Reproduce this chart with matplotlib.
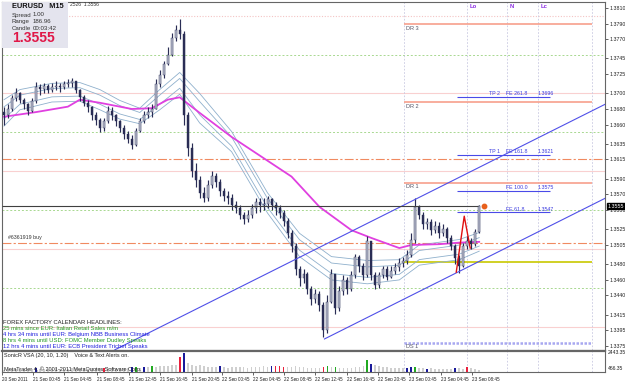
import numpy as np
import matplotlib
matplotlib.use('Agg')
import matplotlib.pyplot as plt
from matplotlib.patches import Rectangle

plt.rcParams['font.family'] = ['Liberation Sans', 'DejaVu Sans']

W, H = 625, 381

# EURUSD M15 bars (quotes written as the last four digits, 3672 -> 1.3672)
open0 = 3676
cl = [3672, 3680, 3694, 3700, 3692, 3686, 3678, 3690, 3708, 3706,
      3710, 3704, 3708, 3710, 3708, 3712, 3714, 3716, 3704, 3696,
      3688, 3682, 3672, 3666, 3656, 3664, 3678, 3672, 3664, 3655,
      3648, 3642, 3634, 3652, 3664, 3672, 3676, 3680, 3712, 3724,
      3738, 3750, 3772, 3782, 3776, 3672, 3630, 3600, 3588, 3572,
      3566, 3582, 3594, 3586, 3574, 3568, 3566, 3556, 3552, 3544,
      3538, 3544, 3552, 3560, 3556, 3558, 3564, 3556, 3552, 3546,
      3536, 3520, 3504, 3474, 3462, 3468, 3448, 3436, 3442, 3428,
      3396, 3432, 3468, 3424, 3446, 3460, 3448, 3466, 3490, 3478,
      3466, 3510, 3466, 3454, 3466, 3474, 3464, 3472, 3476, 3482,
      3484, 3492, 3512, 3554, 3544, 3532, 3534, 3524, 3530, 3520,
      3526, 3514, 3504, 3488, 3478, 3504, 3510, 3506, 3522, 3555]
hi = [3682, 3686, 3698, 3707, 3702, 3694, 3688, 3694, 3715, 3712,
      3714, 3712, 3713, 3716, 3713, 3716, 3718, 3720, 3716, 3706,
      3698, 3692, 3684, 3676, 3668, 3668, 3684, 3682, 3674, 3666,
      3660, 3652, 3646, 3656, 3668, 3678, 3682, 3686, 3718, 3730,
      3742, 3760, 3778, 3788, 3796, 3780, 3676, 3636, 3610, 3594,
      3580, 3588, 3600, 3598, 3590, 3578, 3574, 3570, 3562, 3556,
      3548, 3550, 3558, 3566, 3566, 3566, 3568, 3566, 3560, 3556,
      3550, 3540, 3524, 3508, 3478, 3474, 3470, 3452, 3448, 3446,
      3432, 3440, 3474, 3468, 3452, 3466, 3464, 3472, 3494, 3492,
      3482, 3517, 3510, 3470, 3470, 3478, 3478, 3478, 3482, 3488,
      3490, 3498, 3520, 3566, 3556, 3548, 3540, 3538, 3536, 3534,
      3532, 3528, 3518, 3506, 3492, 3508, 3516, 3514, 3526, 3556]
lo = [3660, 3668, 3678, 3690, 3688, 3680, 3672, 3676, 3688, 3698,
      3700, 3700, 3702, 3704, 3702, 3706, 3708, 3708, 3700, 3690,
      3684, 3676, 3666, 3660, 3650, 3652, 3662, 3666, 3658, 3650,
      3642, 3636, 3628, 3632, 3650, 3662, 3668, 3670, 3680, 3708,
      3720, 3736, 3748, 3768, 3770, 3660, 3620, 3592, 3580, 3566,
      3560, 3562, 3578, 3580, 3568, 3562, 3558, 3550, 3546, 3538,
      3532, 3534, 3540, 3546, 3548, 3550, 3552, 3550, 3544, 3540,
      3530, 3514, 3496, 3466, 3452, 3456, 3442, 3428, 3430, 3420,
      3386, 3392, 3430, 3416, 3420, 3440, 3442, 3446, 3462, 3470,
      3460, 3464, 3460, 3448, 3450, 3462, 3460, 3462, 3468, 3472,
      3476, 3480, 3490, 3508, 3538, 3526, 3526, 3518, 3520, 3514,
      3516, 3508, 3498, 3480, 3469, 3476, 3500, 3500, 3504, 3520]

# slow moving average (magenta), read at a few bars
ma_bar = [0, 8, 16, 19, 24, 32, 37, 41, 44, 49, 57, 62, 72, 79, 87, 92, 99, 102, 109, 114, 119]
ma_val = [3670, 3676, 3683, 3692, 3688, 3680, 3681, 3692, 3695, 3675, 3644,
          3627, 3593, 3554, 3524, 3514, 3501, 3505, 3506, 3508, 3509]

# envelope bands (steel blue): centre and half width
band_bar = [0, 4, 12, 19, 24, 29, 34, 39, 44, 49, 57, 66, 74, 82, 91, 99, 104, 114, 119]
band_mid = [3675, 3692, 3701, 3702, 3692, 3679, 3671, 3692, 3713, 3681, 3638,
            3559, 3505, 3475, 3470, 3473, 3492, 3499, 3509]
band_half = [17, 13, 12, 12, 13, 12, 10, 13, 14, 19, 13, 13, 15, 15, 15, 13, 13, 13, 12]

# SonicR VSA volume
vol = [300, 350, 320, 400, 380, 350, 420, 380, 450, 400,
       380, 420, 400, 450, 380, 420, 400, 450, 480, 420,
       450, 400, 480, 500, 450, 550, 500, 480, 450, 520,
       500, 480, 600, 620, 550, 650, 600, 700, 650, 750,
       700, 800, 850, 900, 1900, 2400, 1100, 900, 800, 850,
       700, 650, 600, 620, 700, 600, 550, 600, 650, 580,
       600, 550, 620, 600, 650, 700, 600, 750, 700, 750,
       680, 600, 650, 700, 620, 580, 550, 500, 520, 480,
       650, 700, 600, 650, 550, 500, 520, 550, 600, 650,
       700, 1500, 1000, 900, 700, 650, 600, 550, 500, 450,
       480, 550, 600, 650, 500, 450, 400, 500, 420, 380,
       400, 380, 420, 500, 450, 400, 600, 450, 350, 300]
vol_flag = {8: 'b', 25: 'r', 32: 'b', 33: 'g', 35: 'b', 37: 'g', 44: 'r', 45: 'b',
            54: 'b', 67: 'b', 68: 'r', 69: 'r', 70: 'r', 80: 'r', 81: 'g', 83: 'g',
            91: 'g', 92: 'b', 101: 'b', 102: 'b', 103: 'g', 106: 'b', 113: 'b', 116: 'r'}

# levels
round_solid = [1.3700, 1.3600, 1.3500, 1.3400]
round_dotted = [1.3800]
half_levels = [1.3750, 1.3650, 1.3550, 1.3450]
order_levels = [1.3616, 1.3508]
bid = 1.3555
dr_levels = [('DR 3', 1.3789), ('DR 2', 1.3689), ('DR 1', 1.3585)]
ds1 = 1.3379
pivot = 1.3483
fe_lines = [('TP 2', 'FE 261.8', 1.3696), ('TP 1', 'FE 161.8', 1.3621),
            ('', 'FE 100.0', 1.3575), ('', 'FE 61.8', 1.3547)]
channel_up = [(27.75, 1.3370), (150.5, 1.3686)]
channel_dn = [(80.25, 1.3384), (150.5, 1.3565)]
zigzag_bar = [113.25, 115.25, 116.75]
zigzag_val = [1.3470, 1.3542, 1.3501]
session_bar = [100.25, 116.0, 126.0, 133.75, 147.25]
session_lbl = [('Lo', 116.0), ('N', 126.0), ('Lc', 133.75)]

yticks = [1.3810, 1.3790, 1.3770, 1.3745, 1.3725, 1.3700, 1.3680, 1.3660, 1.3635,
          1.3615, 1.3590, 1.3570, 1.3550, 1.3525, 1.3505, 1.3480, 1.3460, 1.3440,
          1.3415, 1.3395, 1.3375]
xtick_bar = [-0.5, 7.25, 15.0, 23.25, 31.25, 39.0, 47.0, 54.5, 62.25, 70.0,
             78.0, 86.0, 93.75, 101.5, 109.5, 117.25]
xtick_lbl = ['20 Sep 2011', '21 Sep 00:45', '21 Sep 04:45', '21 Sep 08:45', '21 Sep 12:45',
             '21 Sep 16:45', '21 Sep 20:45', '22 Sep 00:45', '22 Sep 04:45', '22 Sep 08:45',
             '22 Sep 12:45', '22 Sep 16:45', '22 Sep 20:45', '23 Sep 00:45', '23 Sep 04:45',
             '23 Sep 08:45']

news = [('FOREX FACTORY CALENDAR HEADLINES:', '#222222'),
        ('25 mins since EUR: Italian Retail Sales m/m', '#229922'),
        ('4 hrs 34 mins until EUR: Belgium NBB Business Climate', '#2222dd'),
        ('8 hrs 4 mins until USD: FOMC Member Dudley Speaks', '#229922'),
        ('12 hrs 4 mins until EUR: ECB President Trichet Speaks', '#2222dd')]


def px(x):
    return x / W


def py(y):
    return 1 - y / H


q = lambda v: 1 + np.asarray(v, dtype=float) / 10000.0
c = q(cl); h = q(hi); l = q(lo)
o = np.r_[q(open0), c[:-1]]
bars = np.arange(len(c))
XMIN, XMAX = -0.5, 150.5

fig = plt.figure(figsize=(W / 100, H / 100), dpi=100)
fig.patch.set_facecolor('white')
ax = fig.add_axes([px(2), py(350), px(603), (350 - 2) / H])
av = fig.add_axes([px(2), py(372), px(603), (372 - 351) / H])

# background levels
for v in round_solid:
    ax.axhline(v, color='#f9d0d0', lw=0.8, zorder=1)
for v in round_dotted:
    ax.axhline(v, color='#f4c4c4', lw=0.8, ls=(0, (1, 1.5)), zorder=1)
for v in half_levels:
    ax.axhline(v, color='#a8d890', lw=0.7, ls=(0, (2, 2)), zorder=1)
for v in order_levels:
    ax.axhline(v, color='#f08a60', lw=0.8, ls=(0, (8, 2, 2, 2)), zorder=1)
ax.text(1.0, order_levels[1] + 0.0003, '#6361919 buy', fontsize=3.8, color='#333333', va='bottom')

for b in session_bar:
    for a in (ax, av):
        a.axvline(b, color='#c8c8e0', lw=0.6, ls=(0, (2, 2)), zorder=1)
for t, b in session_lbl:
    ax.text(b + 0.6, 1.38125, t, fontsize=4.2, color='#8a2be2', fontweight='bold', va='center')

x0, x1 = session_bar[0], session_bar[-1]
for name, v in dr_levels:
    ax.hlines(v, x0, x1, color='#f7a08c', lw=1.2, zorder=2)
    ax.text(x0 + 0.4, v - 0.0002, name, fontsize=4.0, color='#555566', va='top')
ax.hlines(ds1, x0, x1, color='#a8a8f0', lw=1.8, ls=(0, (1, 0.6)), zorder=2)
ax.text(x0 + 0.4, ds1 - 0.0002, 'DS 1', fontsize=4.0, color='#555566', va='top')
ax.hlines(pivot, x0, x1, color='#c8c800', lw=1.2, zorder=2)

for tp, fe, v in fe_lines:
    ax.hlines(v, 113.5, 136.75, color='#4a4ae8', lw=0.8, zorder=2)
    if tp:
        ax.text(121.5, v + 0.0001, tp, fontsize=3.8, color='#3a3ae0', va='bottom')
    ax.text(125.75, v + 0.0001, fe, fontsize=3.8, color='#3a3ae0', va='bottom')
    ax.text(133.5, v + 0.0001, '%.4f' % v, fontsize=3.8, color='#3a3ae0', va='bottom')

# indicators
mb = np.asarray(band_mid) / 10000.0 + 1
hb = np.asarray(band_half) / 10000.0
for f in (1.0, 0.45, -0.45, -1.0):
    ax.plot(band_bar, mb + f * hb, color='#8fb0cc', lw=0.6, zorder=3)
ax.plot(ma_bar, q(ma_val), color='#e040e0', lw=1.3, zorder=4)

# candles
top = np.maximum.reduce([h, o, c])
bot = np.minimum.reduce([l, o, c])
ax.vlines(bars, bot, top, color='#2a2d55', lw=0.85, zorder=5)
up = c >= o
ax.bar(bars[up], (c - o)[up], bottom=o[up], width=0.5, color='#b8bccc',
       edgecolor='#2a2d55', lw=0.3, zorder=6)
ax.bar(bars[~up], (o - c)[~up], bottom=c[~up], width=0.5, color='#2a2d55',
       edgecolor='#2a2d55', lw=0.3, zorder=6)

# channel, zigzag, bid line
for pts in (channel_up, channel_dn):
    ax.plot([p[0] for p in pts], [p[1] for p in pts], color='#5050e8', lw=0.8, zorder=7)
ax.plot(zigzag_bar, zigzag_val, color='#e01010', lw=1.0, zorder=7)
ax.hlines(bid, XMIN, 118.75, color='#404040', lw=0.8, zorder=7)
ax.plot([120.25], [bid], 'o', color='#e8601c', ms=3.2, zorder=8)

ax.set_xlim(XMIN, XMAX)
ax.set_ylim(1.33698, 1.38177)
ax.yaxis.tick_right()
ax.set_yticks(yticks)
ax.set_yticklabels(['%.4f' % v for v in yticks])
ax.tick_params(axis='y', labelsize=3.8, length=2, width=0.5, pad=1.5, colors='#222222')
ax.set_xticks([])
for s in ax.spines.values():
    s.set_color('#666666'); s.set_linewidth(0.8)

# bid price box on the price scale
ax.annotate('%.4f' % bid, xy=(1.0, bid), xycoords=('axes fraction', 'data'),
            xytext=(2, 0), textcoords='offset points', fontsize=3.8, color='white',
            va='center', ha='left', annotation_clip=False,
            bbox=dict(boxstyle='square,pad=0.15', fc='black', ec='black'))

# volume pane
colors = {'r': '#e8203c', 'b': '#1a1a9a', 'g': '#22aa22'}
vc = [colors[vol_flag[i]] if i in vol_flag else '#cfcfcf' for i in range(len(vol))]
av.bar(bars, vol, width=0.45, color=vc, zorder=3)
av.set_xlim(XMIN, XMAX)
av.set_ylim(0, 2600)
av.yaxis.tick_right()
av.set_yticks([466.35, 2443.35])
av.set_yticklabels(['466.35', '2443.35'])
av.tick_params(axis='y', labelsize=3.6, length=0, pad=2, colors='#222222')
av.set_xticks(xtick_bar)
av.set_xticklabels(xtick_lbl, ha='left')
av.tick_params(axis='x', labelsize=3.3, length=2, width=0.5, pad=1.5, colors='#222222')
for s in av.spines.values():
    s.set_color('#666666'); s.set_linewidth(0.8)
av.spines['top'].set_linewidth(1.6)
av.text(0.004, 0.78, 'SonicR VSA (20, 10, 1.20)    Voice & Text Alerts on.',
        transform=av.transAxes, fontsize=4.0, color='#222222', va='center')
av.text(0.004, 0.12, 'MetaTrader 4, \u00a9 2001-2011 MetaQuotes Software Corp.',
        transform=av.transAxes, fontsize=4.0, color='#222222', va='center', zorder=4)

# calendar headlines
for i, (t, col) in enumerate(news):
    fig.text(px(3), py(322 + 6.1 * i), t, fontsize=4.2, color=col, va='center')

# info box
fig.patches.append(Rectangle((px(2), py(48)), px(66), 46 / H, transform=fig.transFigure,
                             fc='#e4e4ee', ec='none', zorder=10))
fig.text(px(12), py(6), 'EURUSD   M15', fontsize=5.3, fontweight='bold', color='#111111',
         va='center', zorder=11)
for i, (k_, v_) in enumerate([('Spread', '1.00'), ('Range', '186.96'), ('Candle', '00:03:42')]):
    fig.text(px(12), py(15 + 6.5 * i), k_, fontsize=4.4, color='#333333', va='center', zorder=11)
    fig.text(px(33), py(15 + 6.5 * i), v_, fontsize=4.4, color='#333333', va='center', zorder=11)
fig.text(px(12), py(38.5), '%.4f' % bid, fontsize=10, fontweight='bold', color='#e01848',
         va='center', zorder=11)
fig.text(px(70), py(4), '2526  1.3556', fontsize=3.6, color='#333333', va='center')

fig.savefig('out.png', dpi=100, facecolor='white')
